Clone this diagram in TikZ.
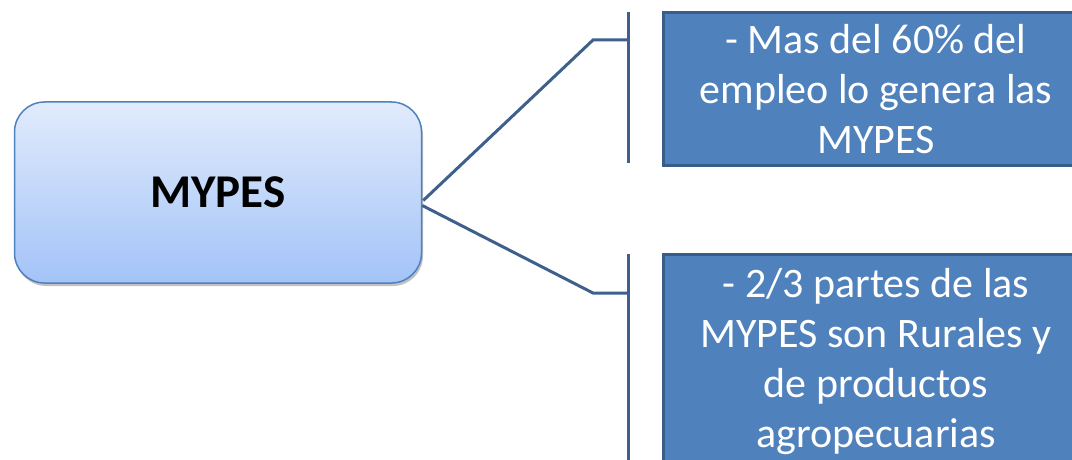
\documentclass[tikz,border=0pt]{standalone}
\usepackage{fontspec}
\setmainfont{Carlito}
\usepackage{tikz}
\usetikzlibrary{positioning}
\usetikzlibrary{calc}
\usetikzlibrary{shadows}
\definecolor{azul}{RGB}{79,129,189}
\definecolor{azuloscuro}{RGB}{56,93,138}
\definecolor{linea}{RGB}{62,96,140}
\definecolor{celesteA}{RGB}{225,235,252}
\definecolor{celesteB}{RGB}{163,195,248}
\tikzset{tema/.style={rounded corners=30pt,draw=azul,line width=1.5pt,top color=celesteA,bottom color=celesteB,minimum width=407pt,minimum height=181pt,font=\fontsize{47}{54}\selectfont\bfseries,drop shadow={shadow xshift=1.5pt,shadow yshift=-3pt,fill=black!40,opacity=0.6}},
dato/.style={fill=azul,draw=azuloscuro,line width=3pt,text=white,align=center,minimum width=426pt,inner xsep=0pt,inner ysep=12pt,font=\fontsize{42}{50}\selectfont},
rama/.style={draw=linea,line width=3pt}}

\begin{document}
\begin{tikzpicture}[x=1pt,y=-1pt]
\useasboundingbox (0,0) rectangle (1072,460);
\node (mypes) [tema] at (218,192.5) {MYPES};
\node (dato1) [dato,anchor=north,minimum height=152pt] at (876,11) {- Mas del 60\% del\\empleo lo genera las\\MYPES};
\node (dato2) [dato,anchor=north,inner ysep=14pt] at (876,253) {- 2/3 partes de las\\MYPES son Rurales y\\de productos\\agropecuarias};

% llaves
\coordinate (b1a) at (628,12);
\coordinate (b1b) at (628,163);
\coordinate (b2a) at (628,254);
\coordinate (b2b) at (628,475);
\coordinate (k1) at (593,40);
\coordinate (k2) at (593,293);

\draw[rama] (b1a) -- (b1b);
\draw[rama] (b2a) -- (b2b);
\draw[rama] ([xshift=1pt,yshift=-8pt]mypes.east) -- (k1) -- (k1 -| b1a);
\draw[rama] ([yshift=-13pt]mypes.east) -- (k2) -- (k2 -| b2a);
\end{tikzpicture}
\end{document}
